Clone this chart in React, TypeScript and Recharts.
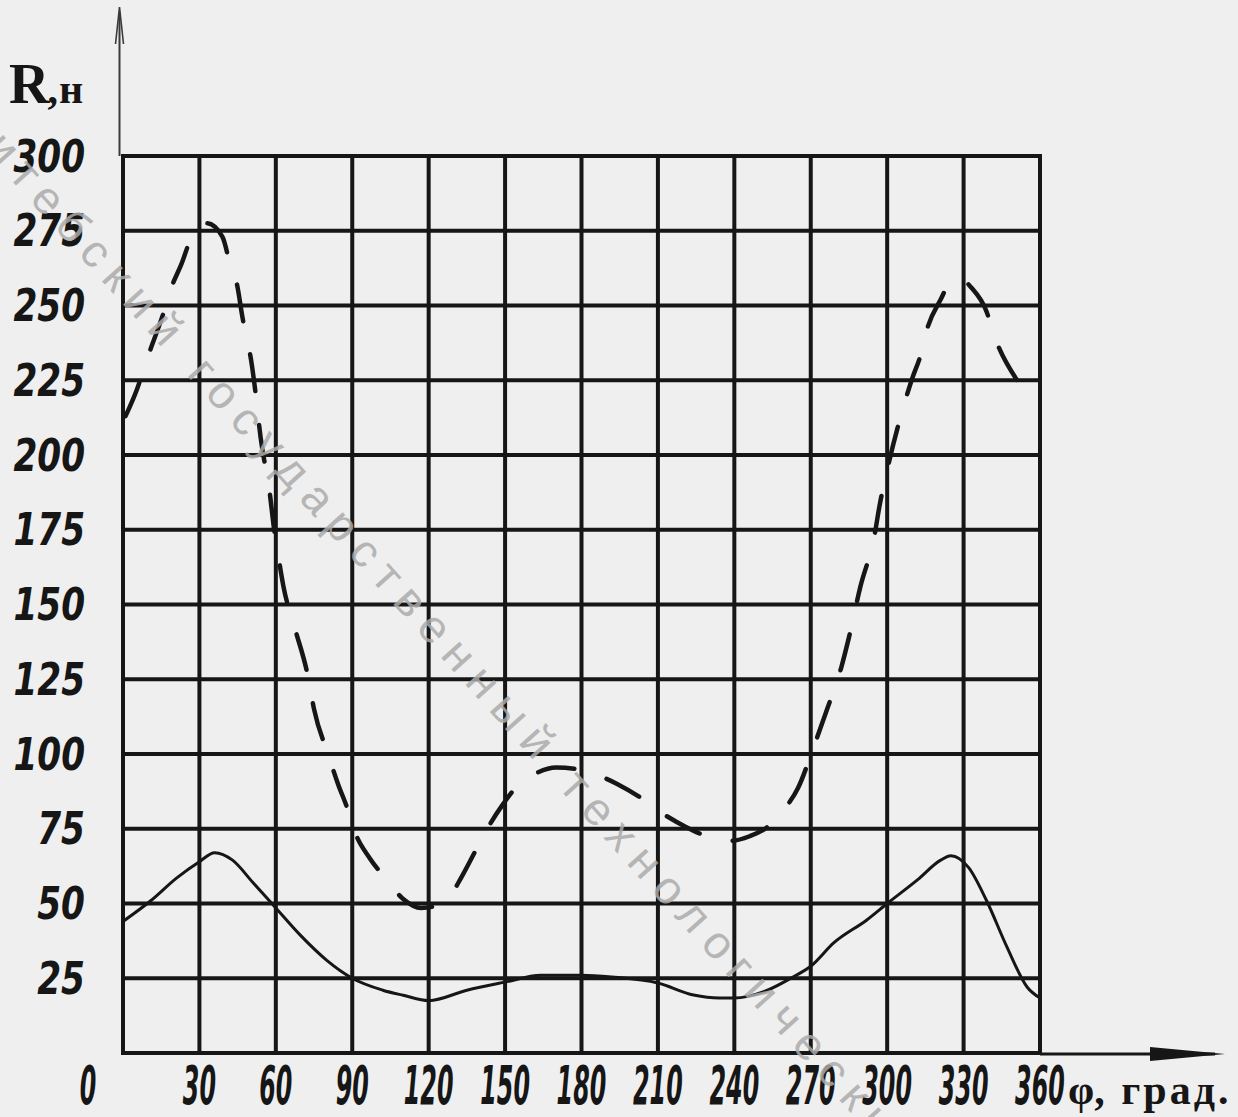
import React from 'react';
import { LineChart, Line, XAxis, YAxis, CartesianGrid, ReferenceArea } from 'recharts';

// ---- data ----
const phiTicks = [0, 30, 60, 90, 120, 150, 180, 210, 240, 270, 300, 330, 360];
const rTicks = [0, 25, 50, 75, 100, 125, 150, 175, 200, 225, 250, 275, 300];

// solid curve
const solidPhi = [0, 11, 21, 30, 36, 43, 51, 60, 69.5, 80, 90, 102, 110, 120, 135, 150, 164, 180, 192, 210, 224, 234, 240, 253, 263, 270, 279, 292, 300, 312, 321, 325, 332, 339, 347, 355, 360];
const solidR = [44, 51, 58.5, 64, 67, 64.5, 57, 48.5, 39.5, 31, 25, 21, 19.3, 17.5, 21, 23.7, 26, 26, 25.4, 23.4, 19.4, 18.4, 18.4, 21, 25.4, 29, 36.8, 44.5, 50, 58, 64.5, 66, 62, 51, 35.5, 22, 18.4];

// dashed curve
const dashedPhi = [1, 5.5, 9.4, 15.7, 19, 23, 27, 33, 39, 42, 45, 46.7, 50.6, 52, 54, 57.5, 59.5, 61, 63, 67.5, 72.6, 75, 80.5, 84.4, 88, 91, 97, 103, 110, 117, 122, 128, 133, 138, 143, 149, 155, 162, 170, 178, 186, 194, 203, 212, 221, 231, 239, 246, 253, 259, 265, 271, 276, 282, 285, 289.5, 295, 297, 300, 306, 310, 313, 316, 321, 325, 329, 333, 339, 342, 351];
const dashedR = [213, 222, 232, 247, 256, 264, 273, 277.5, 273, 264, 256, 247, 230, 221, 206, 188, 174, 166, 156, 142, 126, 115, 100, 90, 82, 74, 65, 58.5, 51.5, 48.5, 49, 52, 59, 67, 75, 83, 89.5, 93.5, 95.5, 95, 93, 90, 85.5, 80, 75.6, 72, 71, 72.5, 75.6, 81, 88.6, 102, 114, 129, 139, 156, 173, 183, 195, 215, 226, 233, 243, 252, 258, 259, 256, 248, 240, 225];

const yTitle = 'R';
const yTitleSub = ',н';
const xTitleSym = 'φ';
const xTitleText = ', град.';
const watermark = 'Витебский государственный технологический университет';

const solidData = solidPhi.map((p, i) => ({ phi: p, r: solidR[i] }));
const dashedData = dashedPhi.map((p, i) => ({ phi: p, r: dashedR[i] }));

// ---- layout ----
const W = 1238;
const H = 1117;
const PLOT_LEFT = 123;
const PLOT_TOP = 156;
const PLOT_RIGHT = 1040;
const PLOT_BOTTOM = 1053;
const INK = '#161616';

const YTick = (props: any) => {
  const { x, y, payload } = props;
  if (payload.value === 0) return null;
  return (
    <text
      transform={`translate(${x},${y}) scale(0.78,1)`}
      textAnchor="end"
      dominantBaseline="central"
      fontFamily="DejaVu Sans"
      fontWeight="bold"
      fontStyle="italic"
      fontSize={44}
      fill={INK}
    >
      {payload.value}
    </text>
  );
};

const XTick = (props: any) => {
  const { x, y, payload } = props;
  const cx = payload.value === 0 ? x - 35 : x;
  return (
    <text
      transform={`translate(${cx},${y + 51}) scale(0.45,1)`}
      textAnchor="middle"
      fontFamily="DejaVu Sans"
      fontWeight="bold"
      fontStyle="italic"
      fontSize={53}
      fill={INK}
    >
      {payload.value}
    </text>
  );
};

export default function App() {
  return (
    <div style={{ position: 'absolute', left: 0, top: 0, width: W, height: H, background: '#efefef', overflow: 'hidden' }}>
      <LineChart
        width={W}
        height={H}
        margin={{ top: PLOT_TOP, right: W - PLOT_RIGHT, bottom: 0, left: 0 }}
      >
        <CartesianGrid stroke={INK} strokeWidth={4} strokeOpacity={1} />
        <XAxis
          type="number"
          dataKey="phi"
          domain={[0, 360]}
          ticks={phiTicks}
          interval={0}
          height={H - PLOT_BOTTOM}
          axisLine={false}
          tickLine={false}
          tickSize={0}
          tickMargin={0}
          tick={<XTick />}
          allowDataOverflow
        />
        <YAxis
          type="number"
          dataKey="r"
          domain={[0, 300]}
          ticks={rTicks}
          interval={0}
          width={PLOT_LEFT}
          axisLine={false}
          tickLine={false}
          tickSize={0}
          tickMargin={38}
          tick={<YTick />}
          allowDataOverflow
        />
        <ReferenceArea x1={0} x2={360} y1={0} y2={300} fill="none" fillOpacity={0} stroke={INK} strokeWidth={4} ifOverflow="visible" />
        <Line
          data={solidData}
          dataKey="r"
          type="monotone"
          stroke={INK}
          strokeWidth={3}
          dot={false}
          activeDot={false}
          isAnimationActive={false}
        />
        <Line
          data={dashedData}
          dataKey="r"
          type="monotone"
          stroke={INK}
          strokeWidth={4.5}
          strokeDasharray="37 34"
          strokeLinecap="round"
          dot={false}
          activeDot={false}
          isAnimationActive={false}
        />
      </LineChart>
      <svg width={W} height={H} style={{ position: 'absolute', left: 0, top: 0, pointerEvents: 'none' }}>
        {/* y axis arrow */}
        <line x1={119.5} y1={PLOT_TOP} x2={119.5} y2={12} stroke="#3a3a3a" strokeWidth={2} />
        <path d="M115.5,44 L119.5,7 L123.5,44" fill="none" stroke="#3a3a3a" strokeWidth={1.6} />
        {/* x axis arrow */}
        <line x1={PLOT_RIGHT} y1={PLOT_BOTTOM + 1} x2={1215} y2={PLOT_BOTTOM + 1} stroke={INK} strokeWidth={3} />
        <path d={`M1150,${PLOT_BOTTOM - 6} L1225,${PLOT_BOTTOM + 1} L1150,${PLOT_BOTTOM + 8} Z`} fill={INK} />
        {/* titles */}
        <text x={9} y={103} fontFamily="Liberation Serif" fontWeight="bold" fill={INK}>
          <tspan fontSize={56}>{yTitle}</tspan>
          <tspan fontSize={42} dx={-2} letterSpacing={1}>{yTitleSub}</tspan>
        </text>
        <text x={1068} y={1104} fontFamily="Liberation Serif" fontWeight="bold" fill={INK}>
          <tspan fontSize={42}>{xTitleSym}</tspan>
          <tspan fontSize={42} letterSpacing={3}>{xTitleText}</tspan>
        </text>
        {/* watermark */}
        <text
          transform="translate(-45,118) rotate(48)"
          fontFamily="Liberation Sans"
          fontSize={46}
          letterSpacing={11}
          fill="#ababab"
          fillOpacity={0.85}
        >
          {watermark}
        </text>
      </svg>
    </div>
  );
}
